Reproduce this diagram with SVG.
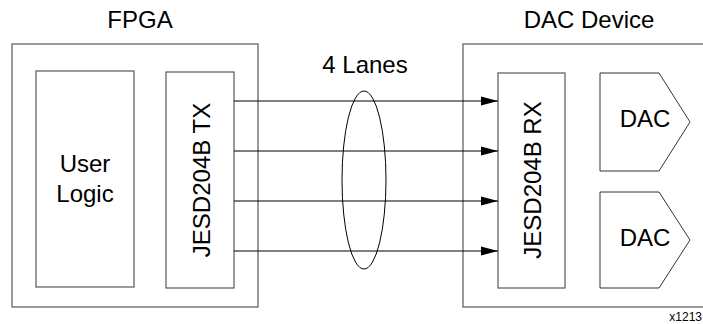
<svg xmlns="http://www.w3.org/2000/svg" width="703" height="324" viewBox="0 0 703 324">
<defs>
<style>
text{font-family:"Liberation Sans",Arial,sans-serif;fill:#000;}
.big{font-size:24px;text-anchor:middle;}
.small{font-size:12px;text-anchor:end;}
.outer{fill:#fff;stroke:#666;stroke-width:1.3;}
.inner{fill:#fff;stroke:#666;stroke-width:1.3;}
.dac{fill:#fff;stroke:#333;stroke-width:1;}
.lane{stroke:#000;stroke-width:1;fill:none;marker-end:url(#arr);}
</style>
<marker id="arr" markerWidth="17" markerHeight="10" refX="17" refY="5" orient="auto" markerUnits="userSpaceOnUse">
<path d="M0,0.5 L17,5 L0,9.5 Z" fill="#000"/>
</marker>
</defs>
<rect width="703" height="324" fill="#fff"/>
<g id="fpga">
<rect class="outer" x="12" y="44" width="246" height="263"/>
<text class="big" x="140" y="28">FPGA</text>
</g>
<g id="user-logic">
<rect class="inner" x="36" y="71" width="98" height="216"/>
<text class="big" x="85" y="172">User</text>
<text class="big" x="85" y="202">Logic</text>
</g>
<g id="jesd-tx">
<rect class="inner" x="166" y="72" width="68" height="216"/>
<text class="big" transform="translate(210,180) rotate(-90)">JESD204B TX</text>
</g>
<g id="dac-device">
<rect class="outer" x="463" y="44" width="260" height="263"/>
<text class="big" x="589" y="28">DAC Device</text>
</g>
<g id="jesd-rx">
<rect class="inner" x="498" y="73" width="67" height="215"/>
<text class="big" transform="translate(541,180) rotate(-90)">JESD204B RX</text>
</g>
<g id="dac1">
<polygon class="dac" points="600,73 659,73 690,122 659,171 600,171"/>
<text class="big" x="645" y="127">DAC</text>
</g>
<g id="dac2">
<polygon class="dac" points="600,192 659,192 690,240 659,288 600,288"/>
<text class="big" x="645" y="246">DAC</text>
</g>
<g id="connectors">
<line class="lane" x1="234" y1="101" x2="498" y2="101"/>
<line class="lane" x1="234" y1="151" x2="498" y2="151"/>
<line class="lane" x1="234" y1="201" x2="498" y2="201"/>
<line class="lane" x1="234" y1="251" x2="498" y2="251"/>
</g>
<g id="lanes-bundle">
<ellipse cx="364" cy="180" rx="22" ry="89" fill="none" stroke="#000" stroke-width="1"/>
<text class="big" x="365" y="73">4 Lanes</text>
</g>
<text class="small" x="702" y="321">x1213</text>
</svg>
